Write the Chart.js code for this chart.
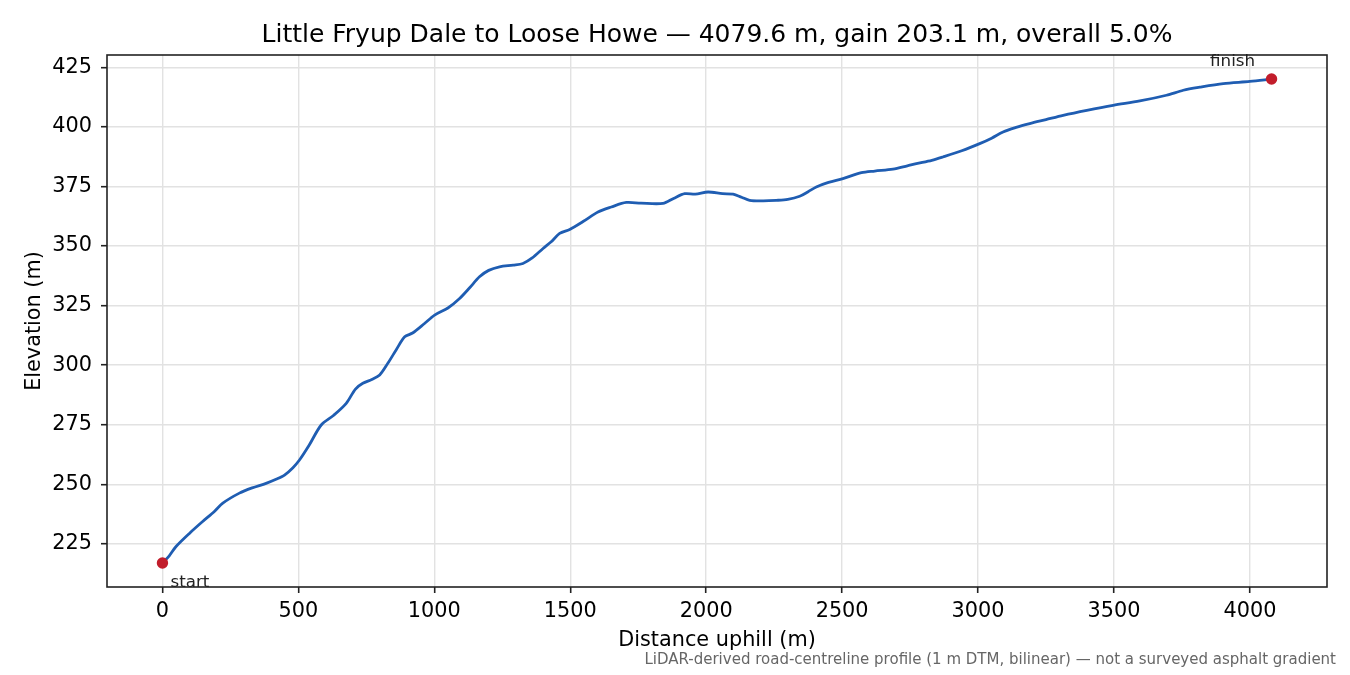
<!DOCTYPE html>
<html lang="en">
<head>
    <meta charset="UTF-8">
    <title>Little Fryup Dale to Loose Howe</title>
    <script src="https://cdn.jsdelivr.net/npm/chart.js"></script>
    <style>
        body {
            margin: 0;
            background: #fff;
            font-family: "DejaVu Sans", sans-serif;
        }
        .wrap {
            position: relative;
            width: 1350px;
            height: 675px;
        }
        .footnote {
            position: absolute;
            right: 14px;
            top: 651px;
            font-size: 15px;
            line-height: 17px;
            color: #666;
            white-space: nowrap;
        }
    </style>
</head>
<body>
<div class="wrap">
    <canvas id="profileChart"></canvas>
    <div class="footnote">LiDAR-derived road-centreline profile (1 m DTM, bilinear) — not a surveyed asphalt gradient</div>
</div>

<script>
    // distance uphill (m) and elevation (m)
    const distance = [0, 25, 50, 100, 148, 190, 222, 283, 330, 381, 420, 449, 480, 504, 540, 584,
        630, 676, 710, 737, 770, 799, 829, 860, 891, 920, 964, 1001, 1050, 1093, 1130, 1166,
        1200, 1240, 1290, 1326, 1360, 1400, 1430, 1461, 1498, 1550, 1602, 1651, 1706, 1760,
        1841, 1880, 1921, 1960, 2007, 2060, 2099, 2130, 2160, 2210, 2258, 2300, 2344, 2375,
        2405, 2450, 2503, 2571, 2620, 2687, 2740, 2773, 2830, 2871, 2940, 3006, 3050, 3092,
        3140, 3190, 3250, 3313, 3400, 3497, 3595, 3693, 3755, 3816, 3902, 4000, 4079.6];
    const elevation = [217.0, 220.0, 223.9, 229.5, 234.4, 238.5, 242.1, 246.3, 248.5, 250.4, 252.2, 253.9, 257.0, 260.2, 266.5, 274.9,
        279.0, 284.0, 290.0, 292.4, 294.0, 295.9, 300.8, 306.5, 311.9, 313.5, 317.5, 321.0, 324.0, 328.0, 332.5, 337.1,
        339.8, 341.3, 342.0, 342.7, 345.0, 349.0, 351.8, 355.3, 357.0, 360.5, 364.3, 366.4, 368.3, 368.0,
        367.9, 370.0, 372.0, 371.8, 372.7, 372.0, 371.8, 370.5, 369.2, 369.0, 369.2, 369.6, 370.9, 372.8,
        374.8, 376.7, 378.3, 380.8, 381.5, 382.3, 383.7, 384.6, 386.0, 387.4, 390.0, 393.0, 395.3, 397.9,
        399.8, 401.4, 403.1, 404.9, 407.0, 409.1, 410.9, 413.3, 415.4, 416.7, 418.2, 419.1, 420.1];

    const endLabels = ['start', 'finish'];
    const xTicks = [0, 500, 1000, 1500, 2000, 2500, 3000, 3500, 4000];
    const yTicks = [225, 250, 275, 300, 325, 350, 375, 400, 425];

    const profile = distance.map((d, i) => ({x: d, y: elevation[i]}));
    const last = distance.length - 1;
    const ends = [
        {x: distance[0], y: elevation[0]},
        {x: distance[last], y: elevation[last]}
    ];

    // full box around the axes + start/finish labels
    const framePlugin = {
        id: 'frame',
        afterDatasetsDraw(chart) {
            const {ctx, chartArea: a, scales} = chart;
            ctx.save();
            ctx.strokeStyle = '#222';
            ctx.lineWidth = 1.6;
            ctx.strokeRect(a.left, a.top, a.right - a.left, a.bottom - a.top);

            ctx.fillStyle = '#222';
            ctx.font = '16.7px "DejaVu Sans"';
            ctx.textBaseline = 'alphabetic';
            const sx = scales.x.getPixelForValue(ends[0].x);
            const sy = scales.y.getPixelForValue(ends[0].y);
            ctx.textAlign = 'left';
            ctx.fillText(endLabels[0], sx + 8, sy + 24);
            const fx = scales.x.getPixelForValue(ends[1].x);
            const fy = scales.y.getPixelForValue(ends[1].y);
            ctx.textAlign = 'center';
            ctx.fillText(endLabels[1], fx - 39, fy - 13);
            ctx.restore();
        }
    };

    const gridStyle = {color: '#e2e2e2', lineWidth: 1.4, tickColor: '#222', tickWidth: 1.6, tickLength: 6};
    const tickFont = {family: 'DejaVu Sans', size: 20.8};

    const ctx = document.getElementById('profileChart').getContext('2d');
    new Chart(ctx, {
        type: 'line',
        data: {
            datasets: [
                {
                    data: ends,
                    showLine: false,
                    pointRadius: 5.7,
                    pointBackgroundColor: '#c21d2b',
                    pointBorderWidth: 0,
                    order: 0
                },
                {
                    data: profile,
                    borderColor: '#1f5db2',
                    borderWidth: 2.8,
                    pointRadius: 0,
                    tension: 0.3,
                    fill: false,
                    order: 1
                }
            ]
        },
        options: {
            responsive: true,
            maintainAspectRatio: false,
            animation: false,
            devicePixelRatio: 1,
            layout: {
                padding: {left: 0, right: 23, top: 0, bottom: 22}
            },
            plugins: {
                legend: {display: false},
                tooltip: {enabled: false},
                title: {
                    display: true,
                    fullSize: false,
                    text: 'Little Fryup Dale to Loose Howe — 4079.6 m, gain 203.1 m, overall 5.0%',
                    color: '#000',
                    font: {family: 'DejaVu Sans', size: 25, weight: 'normal'},
                    padding: {top: 20, bottom: 5}
                }
            },
            scales: {
                x: {
                    type: 'linear',
                    min: -204,
                    max: 4283.6,
                    afterBuildTicks: s => { s.ticks = xTicks.map(v => ({value: v})); },
                    afterFit: s => { s.height = 66; },
                    grid: gridStyle,
                    border: {display: false},
                    ticks: {
                        color: '#000',
                        font: tickFont,
                        padding: 6,
                        maxRotation: 0,
                        callback: v => String(v)
                    },
                    title: {
                        display: true,
                        text: 'Distance uphill (m)',
                        color: '#000',
                        font: tickFont,
                        padding: {top: 0, bottom: 0}
                    }
                },
                y: {
                    type: 'linear',
                    min: 206.9,
                    max: 430.2,
                    afterBuildTicks: s => { s.ticks = yTicks.map(v => ({value: v})); },
                    afterFit: s => { s.width = 107; },
                    grid: gridStyle,
                    border: {display: false},
                    ticks: {
                        color: '#000',
                        font: tickFont,
                        padding: 9,
                        callback: v => String(v)
                    },
                    title: {
                        display: true,
                        text: 'Elevation (m)',
                        color: '#000',
                        font: tickFont,
                        padding: {top: 22, bottom: 0}
                    }
                }
            }
        },
        plugins: [framePlugin]
    });
</script>
</body>
</html>
